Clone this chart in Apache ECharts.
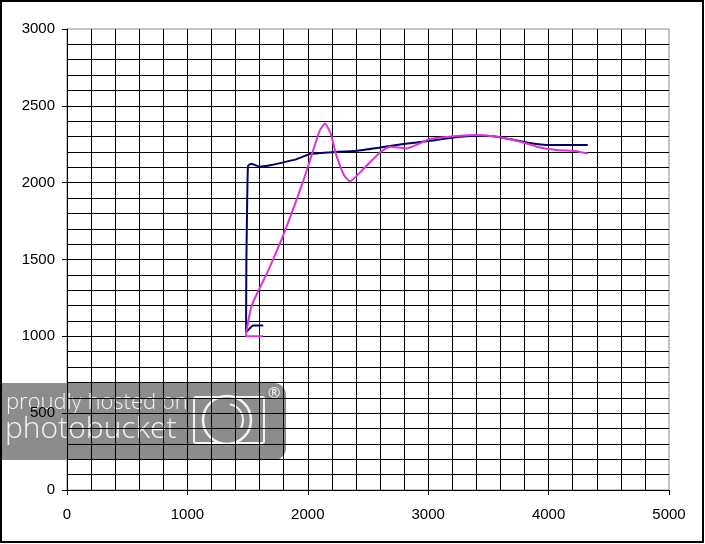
<!DOCTYPE html>
<html>
<head>
<meta charset="utf-8">
<script src="https://cdn.jsdelivr.net/npm/echarts@6/dist/echarts.min.js"></script>
<style>html,body{margin:0;padding:0;background:#fff;}#c{width:705px;height:544px;}</style>
</head>
<body>
<div id="c"></div>
<script>
// x ticks / y ticks
const xTicks = [0, 1000, 2000, 3000, 4000, 5000];
const yTicks = [0, 500, 1000, 1500, 2000, 2500, 3000];

// navy series
const blueX = [1630,1545,1503,1487,1490,1497,1503,1515,1534,1603,1700,1797,1908,2018,2184,2406,2600,2793,3015,3264,3430,3569,3818,4012,4325];
const blueY = [1071,1071,1039,1028,1500,1900,2105,2118,2121,2104,2115,2132,2153,2186,2197,2208,2229,2251,2273,2299,2305,2299,2262,2245,2245];

// magenta series
const magX = [1628,1487,1492,1534,1672,1811,1963,2040,2100,2143,2190,2234,2300,2350,2450,2600,2683,2821,3015,3264,3403,3569,3790,3901,4067,4205,4325];
const magY = [1000,1000,1040,1201,1429,1688,2013,2200,2340,2385,2320,2186,2050,2008,2080,2197,2234,2223,2284,2305,2310,2299,2262,2234,2212,2208,2190];

const pair = (xs, ys) => xs.map((x, i) => [x, ys[i]]);

const chart = echarts.init(document.getElementById('c'));
const font = 'Liberation Sans, Arial, sans-serif';
const wm = '#f4f4f4';
chart.setOption({
  animation: false,
  backgroundColor: '#fff',
  grid: { left: 67, right: 36, top: 29, bottom: 54, show: true, borderColor: '#888', borderWidth: 1, backgroundColor: 'transparent' },
  xAxis: {
    type: 'value', min: xTicks[0], max: xTicks[xTicks.length - 1], interval: 1000,
    axisLine: { show: true, lineStyle: { color: '#000', width: 1 } },
    axisTick: { show: true, length: 5, lineStyle: { color: '#000' } },
    axisLabel: { color: '#000', fontSize: 15, fontFamily: font, margin: 17, formatter: v => String(v) },
    splitLine: { show: true, showMinLine: false, showMaxLine: false, lineStyle: { color: '#000', width: 1 } },
    minorTick: { show: false, splitNumber: 5 },
    minorSplitLine: { show: true, lineStyle: { color: '#000', width: 1 } }
  },
  yAxis: {
    type: 'value', min: yTicks[0], max: yTicks[yTicks.length - 1], interval: 500,
    axisLine: { show: true, lineStyle: { color: '#000', width: 1 } },
    axisTick: { show: true, length: 5, lineStyle: { color: '#000' } },
    axisLabel: { color: '#000', fontSize: 15, fontFamily: font, margin: 12, formatter: v => String(v) },
    splitLine: { show: true, showMinLine: false, showMaxLine: false, lineStyle: { color: '#000', width: 1 } },
    minorTick: { show: false, splitNumber: 5 },
    minorSplitLine: { show: true, lineStyle: { color: '#000', width: 1 } }
  },
  graphic: {
    elements: [
      { type: 'rect', z: -10, shape: { x: 0, y: 383, width: 286, height: 77, r: [0, 12, 12, 0] }, style: { fill: '#8c8c8c' } },
      { type: 'text', z: -9, left: 6, top: 392, style: { text: 'proudly hosted on', fill: wm, font: '300 22px "Open Sans", sans-serif' } },
      { type: 'text', z: -9, left: 5, top: 414, style: { text: 'photobucket', fill: wm, font: '300 30px "Open Sans", sans-serif' } },
      { type: 'rect', z: -9, shape: { x: 194, y: 397, width: 70, height: 46, r: 2 }, style: { fill: 'none', stroke: wm, lineWidth: 2 } },
      { type: 'circle', z: -9, shape: { cx: 227, cy: 420, r: 24 }, style: { fill: '#8c8c8c', stroke: wm, lineWidth: 2.5 } },
      { type: 'arc', z: -9, shape: { cx: 227, cy: 420, r: 16, startAngle: -1.4, endAngle: 0.5 }, style: { fill: 'none', stroke: wm, lineWidth: 2 } },
      { type: 'text', z: -9, left: 268, top: 386, style: { text: '®', fill: wm, font: '15px "Open Sans", sans-serif' } },
      { type: 'rect', z: 100, shape: { x: 1, y: 1, width: 702, height: 541 }, style: { fill: 'none', stroke: '#000', lineWidth: 2 } }
    ]
  },
  series: [
    { type: 'line', data: pair(blueX, blueY), showSymbol: false, smooth: 0.15, lineStyle: { color: '#000066', width: 2 }, z: 5 },
    { type: 'line', data: pair(magX, magY), showSymbol: false, smooth: 0.15, lineStyle: { color: '#dd33dd', width: 2 }, z: 6 }
  ]
});
</script>
</body>
</html>
